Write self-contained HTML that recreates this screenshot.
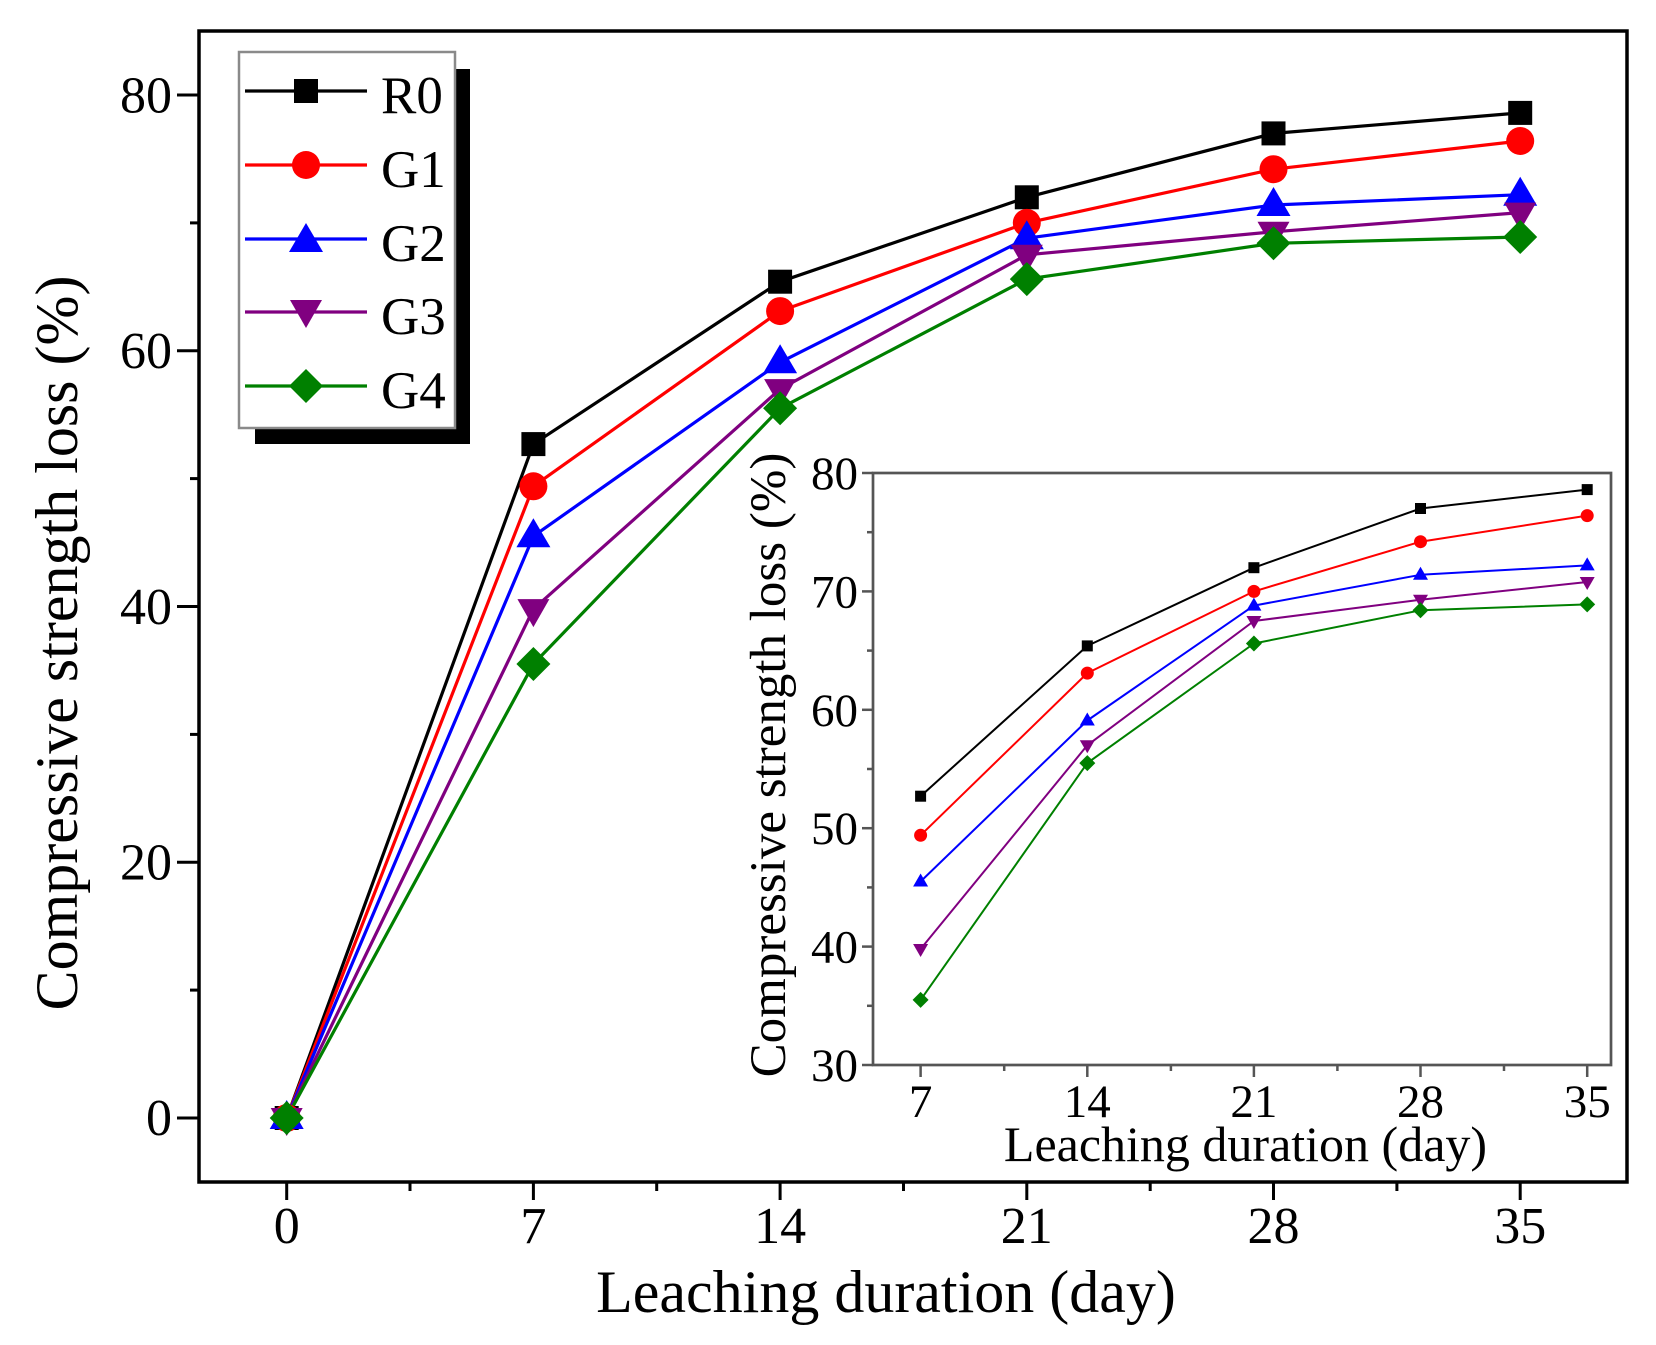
<!DOCTYPE html>
<html><head><meta charset="utf-8"><style>
html,body{margin:0;padding:0;background:#fff;}
svg{display:block;font-family:"Liberation Serif","Times New Roman",serif;}
text{font-family:"Liberation Serif","Times New Roman",serif;fill:#000;}
</style></head><body>
<svg width="1656" height="1345" viewBox="0 0 1656 1345" xmlns="http://www.w3.org/2000/svg" font-family="Liberation Serif, serif">
<rect width="1656" height="1345" fill="#fff"/>
<!-- main frame -->
<rect x="199" y="31" width="1428" height="1151" fill="none" stroke="#000" stroke-width="3.5"/>
<!-- main y ticks -->
<g stroke="#000" stroke-width="3">
<line x1="177" y1="1118" x2="199" y2="1118"/><line x1="177" y1="862.3" x2="199" y2="862.3"/>
<line x1="177" y1="606.5" x2="199" y2="606.5"/><line x1="177" y1="350.8" x2="199" y2="350.8"/>
<line x1="177" y1="95" x2="199" y2="95"/>
<line x1="190" y1="990.1" x2="199" y2="990.1"/><line x1="190" y1="734.4" x2="199" y2="734.4"/>
<line x1="190" y1="478.6" x2="199" y2="478.6"/><line x1="190" y1="222.9" x2="199" y2="222.9"/>
<!-- main x ticks -->
<line x1="286.7" y1="1182" x2="286.7" y2="1200"/><line x1="533.4" y1="1182" x2="533.4" y2="1200"/>
<line x1="780.1" y1="1182" x2="780.1" y2="1200"/><line x1="1026.8" y1="1182" x2="1026.8" y2="1200"/>
<line x1="1273.5" y1="1182" x2="1273.5" y2="1200"/><line x1="1520.2" y1="1182" x2="1520.2" y2="1200"/>
<line x1="410" y1="1182" x2="410" y2="1191"/><line x1="656.7" y1="1182" x2="656.7" y2="1191"/>
<line x1="903.5" y1="1182" x2="903.5" y2="1191"/><line x1="1150.2" y1="1182" x2="1150.2" y2="1191"/>
<line x1="1396.9" y1="1182" x2="1396.9" y2="1191"/>
</g>
<!-- main tick labels -->
<g font-size="52" text-anchor="end">
<text x="172" y="1135">0</text><text x="172" y="879.5">20</text><text x="172" y="624">40</text>
<text x="172" y="368">60</text><text x="172" y="112.5">80</text>
</g>
<g font-size="52" text-anchor="middle">
<text x="286.7" y="1243">0</text><text x="533.4" y="1243">7</text><text x="780.1" y="1243">14</text>
<text x="1026.8" y="1243">21</text><text x="1273.5" y="1243">28</text><text x="1520.2" y="1243">35</text>
</g>
<text x="886" y="1312" font-size="60" text-anchor="middle">Leaching duration (day)</text>
<text transform="translate(77,643) rotate(-90)" font-size="60" text-anchor="middle" font-family="Liberation Serif, serif">Compressive strength loss (%)</text>

<!-- main series -->
<g fill="none" stroke-width="3.2" stroke-linejoin="round">
<polyline stroke="#000" points="286.7,1118 533.4,444.1 780.1,281.7 1026.8,197.3 1273.5,133.4 1520.2,112.9"/>
<polyline stroke="#f00" points="286.7,1118 533.4,486.3 780.1,311.1 1026.8,222.9 1273.5,169.2 1520.2,141"/>
<polyline stroke="#00f" points="286.7,1118 533.4,536.2 780.1,362.3 1026.8,238.2 1273.5,205 1520.2,194.7"/>
<polyline stroke="#800080" points="286.7,1118 533.4,609.1 780.1,389.1 1026.8,254.8 1273.5,231.8 1520.2,212.6"/>
<polyline stroke="#008000" points="286.7,1118 533.4,664 780.1,408.3 1026.8,279.1 1273.5,243.3 1520.2,237"/>
</g>
<defs>
<rect id="sq" x="-12" y="-12" width="24" height="24" fill="#000"/>
<circle id="ci" r="14" fill="#f00"/>
<polygon id="tu" points="0,-18 17,11 -17,11" fill="#00f"/>
<polygon id="td" points="-16,-10 16,-10 0,18" fill="#800080"/>
<polygon id="di" points="0,-17 17,0 0,17 -17,0" fill="#008000"/>
<rect id="sqs" x="-5.5" y="-5.5" width="11" height="11" fill="#000"/>
<circle id="cis" r="6.5" fill="#f00"/>
<polygon id="tus" points="0,-8 7.5,5 -7.5,5" fill="#00f"/>
<polygon id="tds" points="-7.5,-5 7.5,-5 0,8" fill="#800080"/>
<polygon id="dis" points="0,-8 8,0 0,8 -8,0" fill="#008000"/>
</defs>
<use href="#sq" x="286.7" y="1118"/><use href="#sq" x="533.4" y="444.1"/><use href="#sq" x="780.1" y="281.7"/><use href="#sq" x="1026.8" y="197.3"/><use href="#sq" x="1273.5" y="133.4"/><use href="#sq" x="1520.2" y="112.9"/>
<use href="#ci" x="286.7" y="1118"/><use href="#ci" x="533.4" y="486.3"/><use href="#ci" x="780.1" y="311.1"/><use href="#ci" x="1026.8" y="222.9"/><use href="#ci" x="1273.5" y="169.2"/><use href="#ci" x="1520.2" y="141"/>
<use href="#tu" x="286.7" y="1118"/><use href="#tu" x="533.4" y="536.2"/><use href="#tu" x="780.1" y="362.3"/><use href="#tu" x="1026.8" y="238.2"/><use href="#tu" x="1273.5" y="205"/><use href="#tu" x="1520.2" y="194.7"/>
<use href="#td" x="286.7" y="1118"/><use href="#td" x="533.4" y="609.1"/><use href="#td" x="780.1" y="389.1"/><use href="#td" x="1026.8" y="254.8"/><use href="#td" x="1273.5" y="231.8"/><use href="#td" x="1520.2" y="212.6"/>
<use href="#di" x="286.7" y="1118"/><use href="#di" x="533.4" y="664"/><use href="#di" x="780.1" y="408.3"/><use href="#di" x="1026.8" y="279.1"/><use href="#di" x="1273.5" y="243.3"/><use href="#di" x="1520.2" y="237"/>

<!-- legend -->
<rect x="255" y="69" width="215" height="375" fill="#000"/>
<rect x="239" y="52" width="216" height="376" fill="#fff" stroke="#8a8a8a" stroke-width="2.5"/>
<g stroke-width="3.2">
<line x1="245" y1="91" x2="367" y2="91" stroke="#000"/>
<line x1="245" y1="165" x2="367" y2="165" stroke="#f00"/>
<line x1="245" y1="239" x2="367" y2="239" stroke="#00f"/>
<line x1="245" y1="312" x2="367" y2="312" stroke="#800080"/>
<line x1="245" y1="386" x2="367" y2="386" stroke="#008000"/>
</g>
<use href="#sq" x="306" y="91"/><use href="#ci" x="306" y="165"/><use href="#tu" x="306" y="241"/><use href="#td" x="306" y="310"/><use href="#di" x="306" y="386"/>
<g font-size="53">
<text x="381" y="113">R0</text><text x="381" y="187">G1</text><text x="381" y="261">G2</text>
<text x="381" y="334">G3</text><text x="381" y="408">G4</text>
</g>

<!-- inset -->
<rect x="873" y="473" width="738" height="592" fill="#fff" stroke="#555" stroke-width="2.7"/>
<g stroke="#555" stroke-width="2.5">
<line x1="862" y1="1065" x2="873" y2="1065"/><line x1="862" y1="946.6" x2="873" y2="946.6"/>
<line x1="862" y1="828.2" x2="873" y2="828.2"/><line x1="862" y1="709.8" x2="873" y2="709.8"/>
<line x1="862" y1="591.4" x2="873" y2="591.4"/><line x1="862" y1="473" x2="873" y2="473"/>
<line x1="867" y1="1005.8" x2="873" y2="1005.8"/><line x1="867" y1="887.4" x2="873" y2="887.4"/>
<line x1="867" y1="769" x2="873" y2="769"/><line x1="867" y1="650.6" x2="873" y2="650.6"/>
<line x1="867" y1="532.2" x2="873" y2="532.2"/>
<line x1="920.6" y1="1065" x2="920.6" y2="1077"/><line x1="1087.3" y1="1065" x2="1087.3" y2="1077"/>
<line x1="1253.9" y1="1065" x2="1253.9" y2="1077"/><line x1="1420.5" y1="1065" x2="1420.5" y2="1077"/>
<line x1="1587.2" y1="1065" x2="1587.2" y2="1077"/>
<line x1="1004.2" y1="1065" x2="1004.2" y2="1071"/><line x1="1170.9" y1="1065" x2="1170.9" y2="1071"/>
<line x1="1337.4" y1="1065" x2="1337.4" y2="1071"/><line x1="1504" y1="1065" x2="1504" y2="1071"/>
</g>
<g font-size="47" text-anchor="end">
<text x="858" y="1081">30</text><text x="858" y="962.6">40</text><text x="858" y="844.2">50</text>
<text x="858" y="725.8">60</text><text x="858" y="607.4">70</text><text x="858" y="489">80</text>
</g>
<g font-size="47" text-anchor="middle">
<text x="920.6" y="1117">7</text><text x="1087.3" y="1117">14</text><text x="1253.9" y="1117">21</text>
<text x="1420.5" y="1117">28</text><text x="1587.2" y="1117">35</text>
</g>
<text x="1245.5" y="1161" font-size="50" text-anchor="middle">Leaching duration (day)</text>
<text transform="translate(785,765) rotate(-90)" font-size="51" text-anchor="middle" font-family="Liberation Serif, serif">Compressive strength loss (%)</text>
<g fill="none" stroke-width="2" stroke-linejoin="round">
<polyline stroke="#000" points="920.6,796.2 1087.3,645.9 1253.9,567.7 1420.5,508.5 1587.2,489.6"/>
<polyline stroke="#f00" points="920.6,835.3 1087.3,673.1 1253.9,591.4 1420.5,541.7 1587.2,515.6"/>
<polyline stroke="#00f" points="920.6,881.5 1087.3,720.5 1253.9,605.6 1420.5,574.8 1587.2,565.4"/>
<polyline stroke="#800080" points="920.6,949 1087.3,745.3 1253.9,621 1420.5,599.7 1587.2,582"/>
<polyline stroke="#008000" points="920.6,999.9 1087.3,763.1 1253.9,643.5 1420.5,610.3 1587.2,604.4"/>
</g>
<use href="#sqs" x="920.6" y="796.2"/><use href="#sqs" x="1087.3" y="645.9"/><use href="#sqs" x="1253.9" y="567.7"/><use href="#sqs" x="1420.5" y="508.5"/><use href="#sqs" x="1587.2" y="489.6"/>
<use href="#cis" x="920.6" y="835.3"/><use href="#cis" x="1087.3" y="673.1"/><use href="#cis" x="1253.9" y="591.4"/><use href="#cis" x="1420.5" y="541.7"/><use href="#cis" x="1587.2" y="515.6"/>
<use href="#tus" x="920.6" y="881.5"/><use href="#tus" x="1087.3" y="720.5"/><use href="#tus" x="1253.9" y="605.6"/><use href="#tus" x="1420.5" y="574.8"/><use href="#tus" x="1587.2" y="565.4"/>
<use href="#tds" x="920.6" y="949"/><use href="#tds" x="1087.3" y="745.3"/><use href="#tds" x="1253.9" y="621"/><use href="#tds" x="1420.5" y="599.7"/><use href="#tds" x="1587.2" y="582"/>
<use href="#dis" x="920.6" y="999.9"/><use href="#dis" x="1087.3" y="763.1"/><use href="#dis" x="1253.9" y="643.5"/><use href="#dis" x="1420.5" y="610.3"/><use href="#dis" x="1587.2" y="604.4"/>
</svg>
</body></html>
